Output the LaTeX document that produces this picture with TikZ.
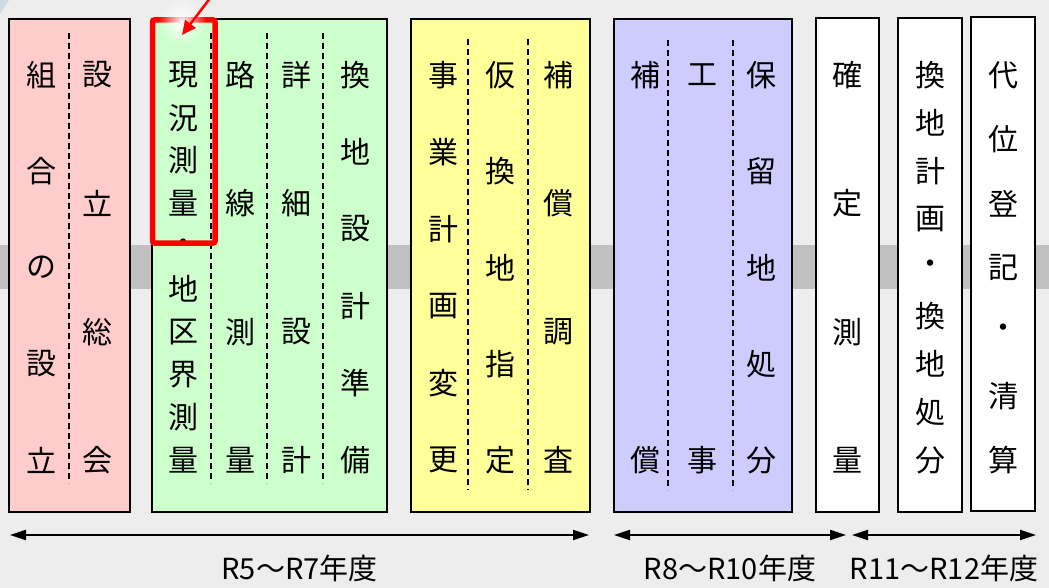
\documentclass[tikz,border=0pt]{standalone}
\usepackage{fontspec}
\setmainfont{Noto Sans CJK JP}
\usetikzlibrary{arrows.meta}
\usetikzlibrary{fadings}

\definecolor{bggray}{RGB}{237,237,237}
\definecolor{bandgray}{RGB}{192,192,192}
\definecolor{cornerblue}{RGB}{205,218,230}
\definecolor{kumiaifill}{RGB}{255,204,204}
\definecolor{sokuryofill}{RGB}{204,255,204}
\definecolor{kankanfill}{RGB}{255,255,153}
\definecolor{kojifill}{RGB}{204,204,255}

\tikzfading[name=glowfade, inner color=transparent!0, outer color=transparent!100]

\newcommand{\stagebox}[3] {\draw [line width=1.4pt, fill=#3] (#1) rectangle (#2);}
\newcommand{\stagesep}[3] {\draw [line width=1.2pt, dash pattern=on 6pt off 4pt] (#1,#2) -- (#1,#3);}
\newcommand{\stagetext}[4] {\foreach \ch [count=\k from 0] in {#4} \node (#1-\k) at (#2, {75+\k*385/(#3-1)}) [kanji] {\ch};}
\newcommand{\periodarrow}[3] {\draw [{Triangle[length=16pt,width=10pt]}-{Triangle[length=16pt,width=10pt]}, line width=2pt] (#1) -- (#2) node [midway, yshift=-33pt, font=\fontsize{29}{29}\selectfont] {#3};}

\begin{document}
\begin{tikzpicture}[x=1pt, y=-1pt, kanji/.style={inner sep=0pt, font=\fontsize{30}{30}\selectfont}]
\useasboundingbox (0,0) rectangle (1049,588);
\fill [bggray] (0,0) rectangle (1049,588);
\fill [cornerblue] (0,0) -- (9,0) -- (0,14) -- cycle;
\fill [bandgray] (0,245) rectangle (1049,289);

% 組合設立
\stagebox {9,19} {130,512} {kumiaifill};
\stagesep {69} {33} {483};
\stagetext {kumiai} {41} {5} {組,合,の,設,立};
\stagetext {sokai} {97} {4} {設,立,総,会};

% 測量・設計
\stagebox {152,19} {387,512} {sokuryofill};
\stagesep {211} {33} {483};
\stagesep {267} {33} {483};
\stagesep {323} {33} {483};
\stagetext {genkyo} {183} {10} {現,況,測,量,・,地,区,界,測,量};
\stagetext {rosen} {240} {4} {路,線,測,量};
\stagetext {shosai} {296} {4} {詳,細,設,計};
\stagetext {kanchi} {355} {6} {換,地,設,計,準,備};

% 仮換地
\stagebox {411,19} {590,512} {kankanfill};
\stagesep {468} {39} {490};
\stagesep {528} {39} {490};
\stagetext {henko} {443} {6} {事,業,計,画,変,更};
\stagetext {karikan} {500} {5} {仮,換,地,指,定};
\stagetext {chosa} {558} {4} {補,償,調,査};

% 工事
\stagebox {614,19} {792,512} {kojifill};
\stagesep {668} {40} {490};
\stagesep {733} {40} {490};
\stagetext {hosho} {645} {2} {補,償};
\stagetext {koji} {702} {2} {工,事};
\stagetext {horyu} {761} {5} {保,留,地,処,分};

% 換地処分
\stagebox {816,18} {879,512} {white};
\stagebox {898,18} {962,512} {white};
\stagebox {971,17} {1035,511} {white};
\stagetext {kakutei} {847} {4} {確,定,測,量};
\stagetext {shobun} {930} {9} {換,地,計,画,・,換,地,処,分};
\stagetext {seisan} {1003} {7} {代,位,登,記,・,清,算};

% 目印
\draw [red, line width=5.5pt, rounded corners=2pt] (152.5,20) rectangle (215,243);
\fill [white, path fading=glowfade] (182,22) circle (24);
\coordinate (marktail) at (211,-3);
\coordinate (marktip) at (182,35);
\draw [red, line width=2.5pt, -{Triangle[length=14pt,width=13pt]}] (marktail) -- (marktip);

% 年度
\coordinate (p1a) at (10,535);
\coordinate (p1b) at (589,535);
\coordinate (p2a) at (614,535);
\coordinate (p2b) at (846,535);
\coordinate (p3a) at (852,535);
\coordinate (p3b) at (1036,535);
\periodarrow{p1a}{p1b}{R5～R7年度};
\periodarrow{p2a}{p2b}{R8～R10年度};
\periodarrow{p3a}{p3b}{R11～R12年度};
\end{tikzpicture}
\end{document}
